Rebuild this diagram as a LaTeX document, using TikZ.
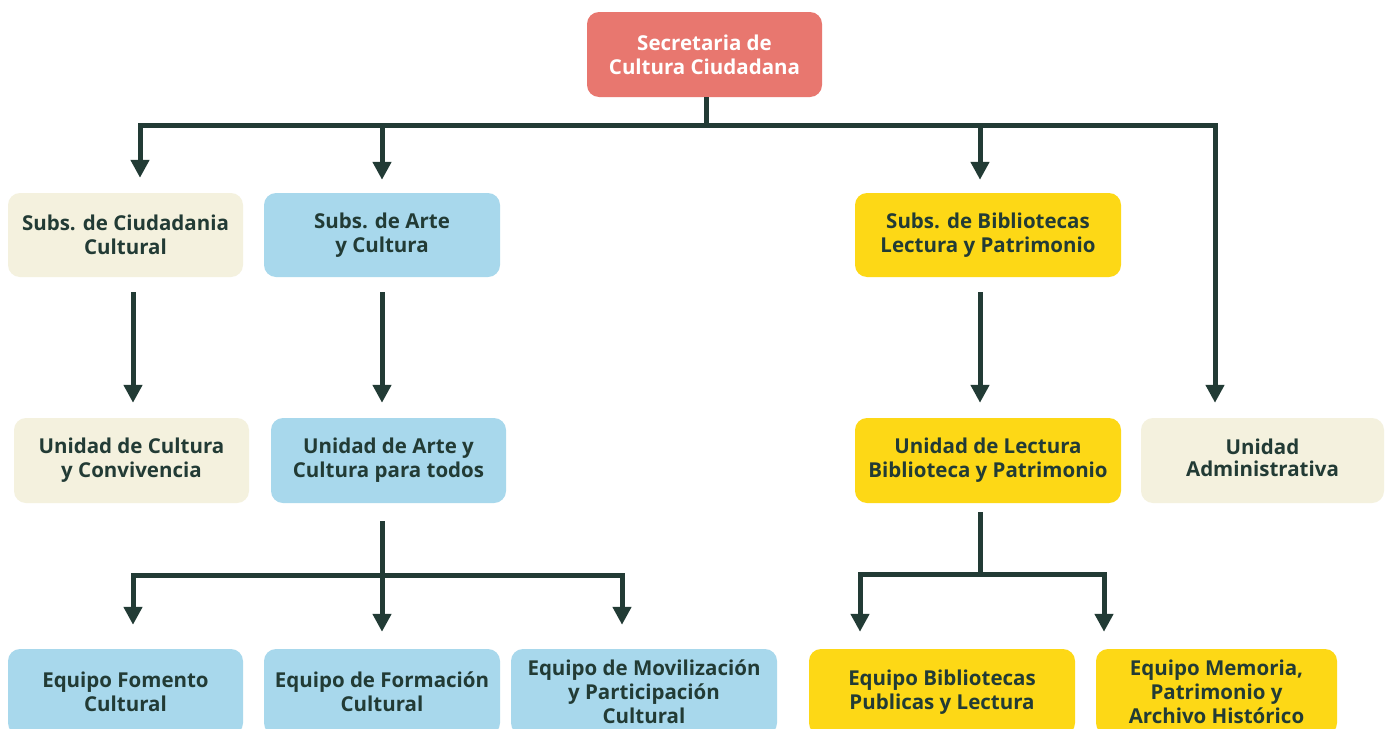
\documentclass[tikz,border=0pt]{standalone}
\usepackage{fontspec}
\setmainfont{Open Sans}
\usetikzlibrary{arrows.meta}
\definecolor{redbox}{HTML}{E8776F}
\definecolor{beigebox}{HTML}{F4F1DE}
\definecolor{bluebox}{HTML}{A8D8EC}
\definecolor{yellowbox}{HTML}{FDD816}
\definecolor{darkline}{HTML}{223B35}
\begin{document}
\begin{tikzpicture}[x=1pt,y=-1pt,
  box/.style={rounded corners=12pt, align=center, inner sep=0pt,
    font=\fontsize{20.5}{24}\selectfont\bfseries, text=darkline},
  ln/.style={draw=darkline, line width=5pt},
  arr/.style={ln, -{Triangle[width=18pt,length=18pt]}}]
\useasboundingbox (0,0) rectangle (1389,728);
\clip (0,0) rectangle (1389,728);
\fill[white] (0,0) rectangle (1389,728);

\node[box, fill=redbox, text=white, minimum width=235pt, minimum height=85pt] (sec) at (704.5,54.5) {Secretaria de\\Cultura Ciudadana};

\node[box, fill=beigebox, minimum width=235pt, minimum height=84pt] (s1) at (125.5,235) {Subs. de Ciudadania\\Cultural};
\node[box, fill=bluebox, minimum width=236pt, minimum height=84pt] (s2) at (382,235) {Subs. de Arte\\y Cultura};
\node[box, fill=yellowbox, minimum width=266pt, minimum height=84pt] (s3) at (988,235) {Subs. de Bibliotecas\\Lectura y Patrimonio};

\node[box, fill=beigebox, minimum width=235pt, minimum height=85pt] (u1) at (131.5,460.5) {Unidad de Cultura\\y Convivencia};
\node[box, fill=bluebox, minimum width=235pt, minimum height=85pt] (u2) at (388.5,460.5) {Unidad de Arte y\\Cultura para todos};
\node[box, fill=yellowbox, minimum width=266pt, minimum height=85pt] (u3) at (988,460.5) {Unidad de Lectura\\Biblioteca y Patrimonio};
\node[box, fill=beigebox, minimum width=243pt, minimum height=85pt] (u4) at (1262.5,460.5) {\raisebox{6pt}{\shortstack{Unidad\\[3pt]Administrativa}}};

\node[box, fill=bluebox, minimum width=235pt, minimum height=86pt] (e1) at (125.5,692) {Equipo Fomento\\Cultural};
\node[box, fill=bluebox, minimum width=236pt, minimum height=86pt] (e2) at (382,692) {Equipo de Formación\\Cultural};
\node[box, fill=bluebox, minimum width=266pt, minimum height=86pt] (e3) at (644,692) {Equipo de Movilización\\y Participación\\Cultural};
\node[box, fill=yellowbox, minimum width=266pt, minimum height=86pt] (e4) at (942,692) {Equipo Bibliotecas\\Publicas y Lectura};
\node[box, fill=yellowbox, minimum width=241pt, minimum height=86pt] (e5) at (1216.5,692) {Equipo Memoria,\\Patrimonio y\\Archivo Histórico};

% top bus
\coordinate (bus) at (706,125);
\draw[ln] (bus |- sec.south) -- (bus);
\draw[arr, shorten >=15pt] (bus) -| ([xshift=14.5pt]s1.north);
\draw[arr, shorten >=13pt] (bus) -| (s2.north);
\draw[arr, shorten >=13pt] (bus) -| ([xshift=-8pt]s3.north);
\draw[arr, shorten >=15pt] (bus) -| ([xshift=-47.5pt]u4.north);

% second level
\draw[arr, shorten <=15pt, shorten >=15pt] ([xshift=7.5pt]s1.south) -- ([xshift=1.5pt]u1.north);
\draw[arr, shorten <=15pt, shorten >=15pt] (s2.south) -- ([xshift=-6.5pt]u2.north);
\draw[arr, shorten <=15pt, shorten >=15pt] ([xshift=-8pt]s3.south) -- ([xshift=-8pt]u3.north);

% third level left
\coordinate (b2) at (382,575);
\draw[ln, shorten <=18pt] ([xshift=-6.5pt]u2.south) -- (b2);
\draw[arr, shorten >=24pt] (b2) -| ([xshift=7.5pt]e1.north);
\draw[arr, shorten >=17pt] (b2) -- (e2.north);
\draw[arr, shorten >=24pt] (b2) -| ([xshift=-22pt]e3.north);

% third level right
\coordinate (b3) at (980,574);
\draw[ln, shorten <=9pt] ([xshift=-8pt]u3.south) -- (b3);
\draw[arr, shorten >=17pt] (b3) -| ([xshift=-82pt]e4.north);
\draw[arr, shorten >=17pt] (b3) -| ([xshift=-112.5pt]e5.north);
\end{tikzpicture}
\end{document}
